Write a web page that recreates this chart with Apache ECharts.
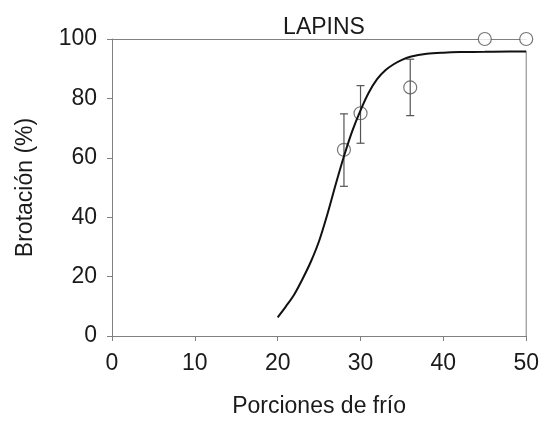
<!DOCTYPE html>
<html>
<head>
<meta charset="utf-8">
<script src="https://cdn.jsdelivr.net/npm/echarts@6/dist/echarts.min.js"></script>
<style>html,body{margin:0;padding:0;background:#fff;}#c{width:542px;height:423px;}</style>
</head>
<body>
<div id="c"></div>
<script>
// Observed data (means and error bar bounds)
const obsX = [28, 30, 36, 45, 50];
const obsY = [62.7, 75.0, 83.7, 100, 100];
const errLow = [50.4, 64.9, 74.2, 100, 100];
const errHigh = [74.8, 84.3, 93.2, 100, 100];
// Fitted curve
const curveX = [20, 21, 22, 23, 24, 25, 26, 27, 28, 29, 30, 31, 32, 33, 34, 35, 36, 38, 40, 42, 45, 48, 50];
const curveY = [6.3, 10, 14, 19.2, 25, 32, 41, 51, 60.5, 69, 76, 82, 86.5, 89.5, 91.5, 93, 94, 95, 95.4, 95.6, 95.7, 95.8, 95.8];
const xTicks = [0, 10, 20, 30, 40, 50];
const yTicks = [0, 20, 40, 60, 80, 100];

const font = 'Liberation Sans, Arial, sans-serif';
const axisGray = '#808080';
const txt = '#1a1a1a';
const fs = 23;
const chart = echarts.init(document.getElementById('c'));
const curve = curveX.map((x, i) => [x, curveY[i]]);
const lastX = curveX[curveX.length - 1], lastY = curveY[curveY.length - 1];
chart.setOption({
  animation: false,
  backgroundColor: '#fff',
  title: {
    text: 'LAPINS', left: 319, top: 11, textAlign: 'center',
    textStyle: { fontFamily: font, fontSize: fs, fontWeight: 'normal', color: txt }
  },
  grid: { left: 112, right: 15, top: 39, bottom: 85 },
  xAxis: [{
    type: 'value', min: xTicks[0], max: xTicks[xTicks.length - 1], interval: 10,
    name: 'Porciones de frío', nameLocation: 'middle', nameGap: 59,
    nameTextStyle: { fontFamily: font, fontSize: fs, color: txt },
    axisLine: { show: true, lineStyle: { color: axisGray, width: 1 } },
    axisTick: { show: true, length: 5, lineStyle: { color: axisGray } },
    axisLabel: { fontFamily: font, fontSize: fs, color: txt, margin: 16 },
    splitLine: { show: false }
  }, {
    type: 'value', position: 'top', min: 0, max: 50,
    axisLine: { show: true, onZero: false, lineStyle: { color: axisGray, width: 1 } },
    axisTick: { show: false }, axisLabel: { show: false }, splitLine: { show: false }
  }],
  yAxis: {
    type: 'value', min: yTicks[0], max: yTicks[yTicks.length - 1], interval: 20,
    name: 'Brotación (%)', nameLocation: 'middle', nameGap: 75, nameRotate: 90,
    nameTextStyle: { fontFamily: font, fontSize: fs, color: txt },
    axisLine: { show: true, lineStyle: { color: axisGray, width: 1 } },
    axisTick: { show: true, length: 5, lineStyle: { color: axisGray } },
    axisLabel: { fontFamily: font, fontSize: fs, color: txt, margin: 15 },
    splitLine: { show: false }
  },
  series: [
    {
      type: 'line', data: [[lastX, 0], [lastX, lastY]], symbol: 'none',
      lineStyle: { color: axisGray, width: 1 }, silent: true, z: 1
    },
    {
      type: 'scatter', data: obsX.map((x, i) => [x, obsY[i]]),
      symbol: 'circle', symbolSize: 13,
      itemStyle: { color: '#fff', borderColor: '#555', borderWidth: 1.2 }, z: 2
    },
    {
      type: 'custom', z: 3,
      data: obsX.map((x, i) => [x, errLow[i], errHigh[i]]),
      renderItem: function (params, api) {
        if (api.value(1) === api.value(2)) return null;
        const lo = api.coord([api.value(0), api.value(1)]);
        const hi = api.coord([api.value(0), api.value(2)]);
        const w = 4;
        const st = { stroke: '#555', lineWidth: 1.2 };
        return { type: 'group', children: [
          { type: 'line', shape: { x1: lo[0], y1: lo[1], x2: hi[0], y2: hi[1] }, style: st },
          { type: 'line', shape: { x1: lo[0] - w, y1: lo[1], x2: lo[0] + w, y2: lo[1] }, style: st },
          { type: 'line', shape: { x1: hi[0] - w, y1: hi[1], x2: hi[0] + w, y2: hi[1] }, style: st }
        ]};
      }
    },
    {
      type: 'line', data: curve, smooth: 0.3, symbol: 'none',
      lineStyle: { color: '#111', width: 2 }, z: 4
    }
  ]
});
</script>
</body>
</html>
